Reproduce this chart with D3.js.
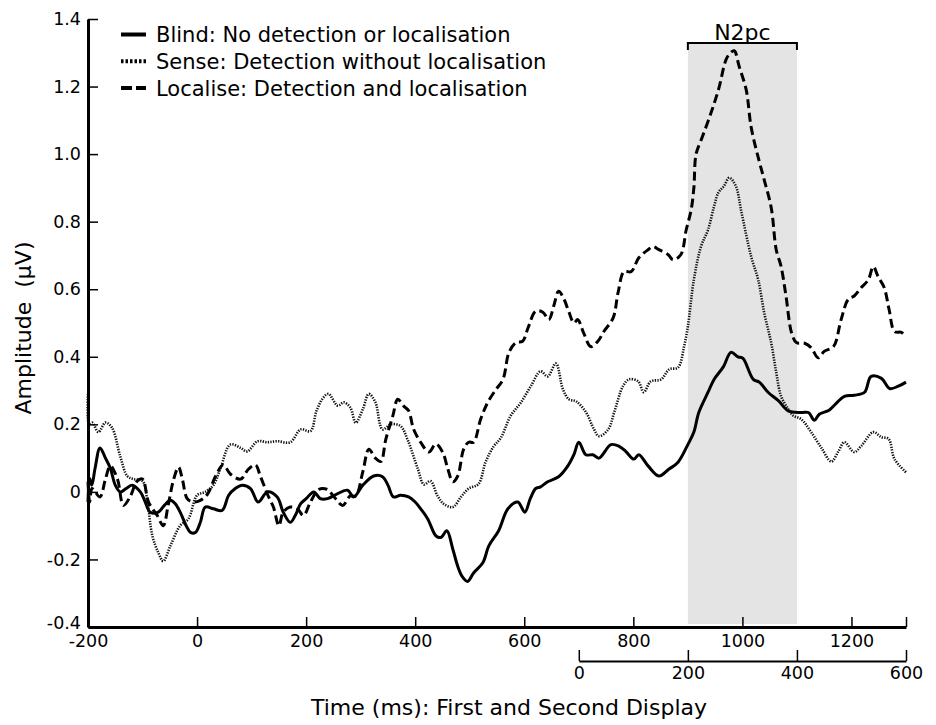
<!DOCTYPE html>
<html>
<head>
<meta charset="utf-8">
<script src="https://cdn.jsdelivr.net/npm/d3@7"></script>
<style>
  body { margin: 0; background: #fff; }
  svg { display: block; font-family: "DejaVu Sans", Verdana, sans-serif; }
</style>
</head>
<body>
<svg id="chart"></svg>
<script>
var width = 936;
var height = 725;

// amplitude (µV) against time (ms)
var blindPoints = [[-200,-0.03],[-197,0.04],[-193,0.02],[-187,0.07],[-178,0.13],[-168,0.10],[-159,0.07],[-150,0.02],[-141,0.0],[-130,0.01],[-119,0.02],[-104,0.0],[-95,-0.03],[-86,-0.06],[-71,-0.06],[-60,-0.04],[-49,-0.025],[-40,-0.035],[-31,-0.06],[-20,-0.1],[-12,-0.12],[-3,-0.12],[6,-0.09],[15,-0.045],[30,-0.05],[46,-0.055],[58,-0.01],[70,0.01],[83,0.02],[98,0.01],[112,-0.03],[129,0.0],[147,-0.015],[158,-0.06],[171,-0.09],[180,-0.07],[190,-0.035],[200,-0.02],[214,0.0],[226,-0.02],[239,-0.02],[258,-0.005],[276,0.005],[287,-0.015],[304,0.02],[324,0.047],[340,0.045],[350,0.02],[360,-0.015],[373,-0.01],[388,-0.015],[400,-0.03],[410,-0.05],[423,-0.08],[438,-0.13],[447,-0.135],[458,-0.115],[469,-0.17],[478,-0.22],[486,-0.25],[496,-0.265],[507,-0.24],[524,-0.21],[535,-0.16],[553,-0.115],[570,-0.05],[588,-0.03],[601,-0.06],[611,-0.02],[621,0.01],[630,0.015],[643,0.03],[663,0.045],[680,0.077],[691,0.11],[700,0.147],[713,0.11],[726,0.11],[737,0.1],[759,0.14],[774,0.135],[786,0.12],[801,0.097],[810,0.11],[827,0.077],[847,0.047],[865,0.067],[882,0.088],[900,0.14],[911,0.177],[920,0.235],[937,0.295],[948,0.333],[965,0.37],[979,0.413],[992,0.40],[1001,0.395],[1020,0.333],[1031,0.325],[1047,0.295],[1066,0.27],[1084,0.24],[1108,0.235],[1121,0.235],[1132,0.212],[1141,0.23],[1159,0.242],[1172,0.262],[1187,0.283],[1205,0.286],[1224,0.295],[1236,0.342],[1255,0.336],[1270,0.306],[1286,0.313],[1300,0.325]];

var sensePoints = [[-200,0.29],[-198,0.2],[-192,0.205],[-181,0.177],[-168,0.205],[-156,0.19],[-141,0.106],[-128,0.047],[-117,0.038],[-100,0.032],[-91,-0.03],[-82,-0.13],[-71,-0.18],[-62,-0.205],[-49,-0.16],[-31,-0.1],[-16,-0.08],[0,-0.01],[15,0.0],[30,0.02],[43,0.07],[61,0.14],[80,0.13],[92,0.12],[111,0.15],[129,0.147],[147,0.15],[171,0.147],[190,0.185],[208,0.18],[219,0.24],[232,0.28],[241,0.29],[258,0.255],[269,0.265],[281,0.25],[291,0.205],[304,0.245],[315,0.29],[327,0.265],[340,0.185],[355,0.2],[373,0.195],[386,0.155],[405,0.067],[416,0.022],[428,0.032],[441,-0.012],[452,-0.035],[469,-0.045],[484,-0.015],[498,0.01],[516,0.023],[529,0.088],[544,0.135],[557,0.16],[575,0.225],[594,0.265],[612,0.313],[630,0.357],[643,0.342],[658,0.38],[671,0.303],[682,0.274],[695,0.268],[713,0.236],[728,0.185],[737,0.165],[754,0.185],[765,0.236],[781,0.313],[792,0.333],[809,0.327],[819,0.295],[832,0.327],[851,0.333],[866,0.363],[882,0.368],[893,0.43],[900,0.49],[911,0.628],[924,0.726],[937,0.776],[948,0.845],[956,0.886],[966,0.905],[976,0.93],[988,0.905],[998,0.83],[1016,0.697],[1029,0.628],[1040,0.53],[1053,0.44],[1062,0.354],[1071,0.283],[1084,0.245],[1093,0.226],[1108,0.215],[1126,0.177],[1145,0.13],[1163,0.09],[1176,0.12],[1187,0.147],[1205,0.118],[1218,0.136],[1240,0.177],[1255,0.162],[1268,0.157],[1279,0.097],[1300,0.058]];

var localisePoints = [[-200,0.03],[-197,-0.03],[-193,0.01],[-190,0.007],[-178,-0.015],[-168,0.038],[-159,0.077],[-146,0.038],[-135,-0.04],[-122,-0.012],[-110,0.032],[-100,0.038],[-89,-0.03],[-73,-0.07],[-62,-0.1],[-53,-0.04],[-43,0.037],[-34,0.073],[-27,0.038],[-18,-0.02],[-7,-0.03],[6,-0.025],[19,-0.007],[34,0.047],[48,0.08],[61,0.053],[80,0.038],[94,0.067],[107,0.08],[116,0.047],[129,-0.007],[140,-0.045],[150,-0.1],[158,-0.06],[171,-0.045],[184,-0.05],[195,-0.07],[208,-0.03],[223,0.007],[239,0.007],[250,-0.012],[267,-0.04],[281,-0.012],[291,-0.012],[304,0.06],[315,0.126],[327,0.1],[337,0.09],[346,0.155],[359,0.225],[368,0.274],[379,0.254],[388,0.24],[397,0.186],[410,0.147],[425,0.118],[438,0.142],[451,0.115],[460,0.067],[469,0.03],[478,0.047],[489,0.127],[498,0.147],[507,0.147],[520,0.215],[533,0.265],[548,0.303],[561,0.333],[572,0.413],[585,0.442],[597,0.446],[607,0.486],[621,0.535],[634,0.532],[645,0.51],[654,0.55],[663,0.594],[673,0.57],[682,0.532],[691,0.5],[698,0.51],[709,0.47],[722,0.43],[735,0.446],[746,0.475],[763,0.515],[772,0.59],[783,0.652],[796,0.652],[810,0.693],[827,0.717],[836,0.726],[847,0.717],[864,0.702],[873,0.687],[887,0.702],[897,0.776],[906,0.835],[911,0.9],[915,1.0],[924,1.04],[942,1.12],[957,1.196],[970,1.28],[978,1.3],[985,1.306],[994,1.26],[1007,1.19],[1016,1.08],[1029,0.99],[1040,0.924],[1053,0.84],[1062,0.717],[1071,0.667],[1080,0.579],[1090,0.472],[1099,0.442],[1114,0.44],[1126,0.427],[1139,0.397],[1150,0.416],[1167,0.43],[1181,0.51],[1194,0.57],[1205,0.58],[1218,0.605],[1231,0.628],[1240,0.667],[1249,0.637],[1260,0.605],[1269,0.54],[1279,0.475],[1292,0.472],[1300,0.457]];

var seriesNames = ["Blind: No detection or localisation", "Sense: Detection without localisation", "Localise: Detection and localisation"];

var yTickValues = [-0.4, -0.2, 0, 0.2, 0.4, 0.6, 0.8, 1.0, 1.2, 1.4];
var yTickLabels = ["-0.4", "-0.2", "0", "0.2", "0.4", "0.6", "0.8", "1.0", "1.2", "1.4"];
var xTickValues = [-200, 0, 200, 400, 600, 800, 1000, 1200, 1300];
var xTickLabels = ["-200", "0", "200", "400", "600", "800", "1000", "1200", ""];
var secondTickValues = [0, 200, 400, 600];
var secondDisplayOnset = 700;
var n2pcWindow = [900, 1100];

var svg = d3.select("#chart")
    .attr("width", width)
    .attr("height", height);

var x = d3.scaleLinear().domain([-200, 1300]).range([88, 906]);
var y = d3.scaleLinear().domain([-0.4, 1.4]).range([627, 19]);
var xSecond = d3.scaleLinear().domain([0, 600])
    .range([x(secondDisplayOnset), x(secondDisplayOnset + 600)]);

// N2pc window shading + bracket
svg.append("rect")
    .attr("x", x(n2pcWindow[0]))
    .attr("y", 43)
    .attr("width", x(n2pcWindow[1]) - x(n2pcWindow[0]))
    .attr("height", 624 - 43)
    .attr("fill", "#e4e4e4");

svg.append("path")
    .attr("d", "M" + x(n2pcWindow[0]) + ",50V43H" + x(n2pcWindow[1]) + "V50")
    .attr("fill", "none")
    .attr("stroke", "#000")
    .attr("stroke-width", 2);

svg.append("text")
    .attr("x", (x(n2pcWindow[0]) + x(n2pcWindow[1])) / 2)
    .attr("y", 40)
    .attr("text-anchor", "middle")
    .style("font-size", "22px")
    .text("N2pc");

// waveforms
var line = d3.line()
    .x(d => x(d[0]))
    .y(d => y(d[1]))
    .curve(d3.curveCatmullRom.alpha(0.5));

var styles = [
    {points: blindPoints, width: 3, dash: null, color: "#000"},
    {points: sensePoints, width: 2.6, dash: "1.3,1.3", color: "#111"},
    {points: localisePoints, width: 3, dash: "9,4.5", color: "#000"}
];

styles.forEach(s => {
    svg.append("path")
        .datum(s.points)
        .attr("d", line)
        .attr("fill", "none")
        .attr("stroke", s.color)
        .attr("stroke-width", s.width)
        .attr("stroke-dasharray", s.dash)
        .attr("stroke-linejoin", "round");
});

// axes
var yAxis = svg.append("g")
    .attr("transform", "translate(" + x(-200) + ",0)")
    .call(d3.axisLeft(y)
        .tickValues(yTickValues)
        .tickFormat((d, i) => yTickLabels[i])
        .tickSize(-10)
        .tickSizeOuter(0)
        .tickPadding(7));

var xAxis = svg.append("g")
    .attr("transform", "translate(0," + y(-0.4) + ")")
    .call(d3.axisBottom(x)
        .tickValues(xTickValues)
        .tickFormat((d, i) => xTickLabels[i])
        .tickSize(-10)
        .tickSizeOuter(0)
        .tickPadding(8));

var secondAxis = svg.append("g")
    .attr("transform", "translate(0,661)")
    .call(d3.axisBottom(xSecond)
        .tickValues(secondTickValues)
        .tickFormat(d3.format("d"))
        .tickSize(-11)
        .tickSizeOuter(0)
        .tickPadding(6));

[yAxis, xAxis].forEach(g => {
    g.select(".domain").attr("stroke-width", 3);
});
secondAxis.select(".domain").attr("stroke-width", 2);
svg.selectAll(".tick line").attr("stroke-width", 1.5);
svg.selectAll(".tick text")
    .attr("fill", "#000")
    .style("font-family", "DejaVu Sans, Verdana, sans-serif")
    .style("font-size", "17.5px");
// lift the bottom y label a touch so it clears "-200"
yAxis.selectAll(".tick text").filter(d => d === -0.4).attr("dy", "0.1em");

// axis titles
svg.append("text")
    .attr("x", 509)
    .attr("y", 715)
    .attr("text-anchor", "middle")
    .style("font-size", "22px")
    .text("Time (ms): First and Second Display");

svg.append("text")
    .attr("transform", "translate(31,328) rotate(-90)")
    .attr("text-anchor", "middle")
    .style("font-size", "22px")
    .style("white-space", "pre")
    .text("Amplitude  (µV)");

// legend
var legendSamples = [
    {dash: null, width: 4},
    {dash: "2.5,2", width: 4},
    {dash: "11,4", width: 4}
];
var legend = svg.append("g");
seriesNames.forEach((name, i) => {
    var yy = 34.5 + i * 26.7;
    legend.append("line")
        .attr("x1", 121).attr("x2", 146)
        .attr("y1", yy).attr("y2", yy)
        .attr("stroke", "#000")
        .attr("stroke-width", legendSamples[i].width)
        .attr("stroke-dasharray", legendSamples[i].dash);
    legend.append("text")
        .attr("x", 156)
        .attr("y", yy + 7.8)
        .style("font-size", "21px")
        .text(name);
});
</script>
</body>
</html>
